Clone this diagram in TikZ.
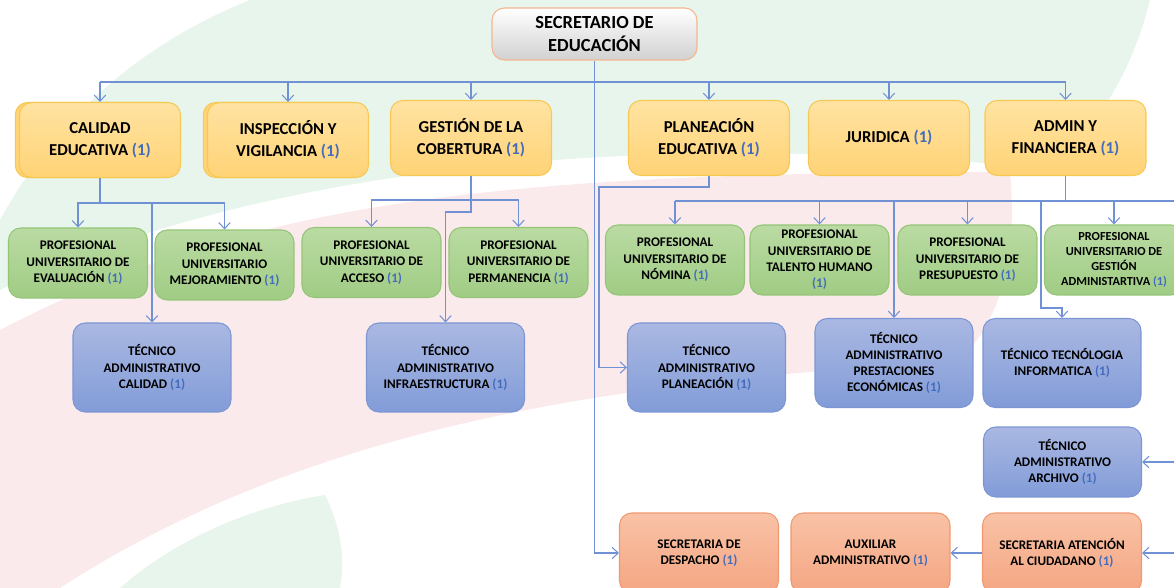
\documentclass[tikz,border=0pt]{standalone}
\usepackage{fontspec}
\setmainfont{Carlito}
\usetikzlibrary{arrows.meta, positioning, shadows}

\definecolor{yellowtop}{RGB}{255,227,162}
\definecolor{yellowbot}{RGB}{255,211,118}
\definecolor{yellowline}{RGB}{248,200,84}
\definecolor{greentop}{RGB}{186,219,163}
\definecolor{greenbot}{RGB}{160,204,132}
\definecolor{greenline}{RGB}{148,196,118}
\definecolor{bluetop}{RGB}{170,184,226}
\definecolor{bluebot}{RGB}{130,156,216}
\definecolor{blueline}{RGB}{124,150,212}
\definecolor{salmontop}{RGB}{249,194,166}
\definecolor{salmonbot}{RGB}{244,166,130}
\definecolor{salmonline}{RGB}{240,152,112}
\definecolor{secline}{RGB}{244,182,144}
\definecolor{conline}{RGB}{112,146,212}
\definecolor{numblue}{RGB}{68,108,188}
\definecolor{bggreen}{RGB}{232,245,236}
\definecolor{bgpink}{RGB}{251,234,236}

\newcommand{\uno}{\textcolor{numblue}{(1)}}

\tikzset{
  box/.style={rounded corners=7pt, align=center, inner sep=2pt, line width=0.6pt},
  jefe/.style={box, draw=secline, top color=white, bottom color=black!18,
    minimum width=4.1cm, minimum height=1.04cm, font=\bfseries\fontsize{10.5}{13}\selectfont},
  cargo/.style={box, draw=yellowline, top color=yellowtop, bottom color=yellowbot,
    minimum width=3.22cm, minimum height=1.5cm, font=\bfseries\fontsize{9.5}{12.5}\selectfont},
  stack/.style={general shadow={shadow xshift=-2.4pt, fill=yellowbot, draw=yellowline}},
  prof/.style={box, draw=greenline, top color=greentop, bottom color=greenbot,
    minimum width=2.78cm, minimum height=1.4cm, font=\bfseries\fontsize{7.5}{9.3}\selectfont},
  tecnico/.style={box, draw=blueline, top color=bluetop, bottom color=bluebot,
    minimum width=3.16cm, minimum height=1.78cm, font=\bfseries\fontsize{7.5}{9.2}\selectfont},
  apoyo/.style={box, draw=salmonline, top color=salmontop, bottom color=salmonbot,
    minimum width=3.18cm, minimum height=1.6cm, font=\bfseries\fontsize{7.5}{9.2}\selectfont},
  con/.style={draw=conline, line width=0.6pt},
  flecha/.style={con, -{Straight Barb[length=3.5pt,width=6.5pt]}}
}

\begin{document}
\begin{tikzpicture}[x=0.02cm, y=-0.02cm]
\useasboundingbox (0,0) rectangle (1174,588);
\clip (0,0) rectangle (1174,588);

% fondo
\fill[bggreen] (250,0) -- (1150,0) .. controls (1130,80) and (1090,140) .. (1040,168)
  .. controls (700,135) and (300,150) .. (0,290) -- (0,220) .. controls (60,110) and (150,40) .. (250,0) -- cycle;
\fill[bgpink] (0,330) .. controls (250,200) and (500,172) .. (1010,172)
  .. controls (1018,260) and (1000,320) .. (960,360) .. controls (700,380) and (350,400) .. (60,588) -- (0,588) -- cycle;
\fill[bggreen] (120,588) .. controls (180,535) and (260,505) .. (325,495) .. controls (342,530) and (345,560) .. (340,588) -- cycle;

% jefe
\node[jefe] (sec) at (594.5,34) {SECRETARIO DE\\EDUCACIÓN};

% areas
\node[cargo, stack] (calidad) at (100,140) {CALIDAD\\EDUCATIVA \uno};
\node[cargo, stack] (inspeccion) at (288,140) {INSPECCIÓN Y\\VIGILANCIA \uno};
\node[cargo] (gestion) at (471,138) {GESTIÓN DE LA\\COBERTURA \uno};
\node[cargo] (planeacion) at (709,138) {PLANEACIÓN\\EDUCATIVA \uno};
\node[cargo] (juridica) at (889,138) {JURIDICA \uno};
\node[cargo] (admin) at (1065.5,138) {ADMIN Y\\FINANCIERA \uno};

% profesionales
\node[prof] (evaluacion) at (78,263) {PROFESIONAL\\UNIVERSITARIO DE\\EVALUACIÓN \uno};
\node[prof] (mejoramiento) at (224.5,265) {PROFESIONAL\\UNIVERSITARIO\\MEJORAMIENTO \uno};
\node[prof] (acceso) at (371.5,262.5) {PROFESIONAL\\UNIVERSITARIO DE\\ACCESO \uno};
\node[prof] (permanencia) at (518.5,262.5) {PROFESIONAL\\UNIVERSITARIO DE\\PERMANENCIA \uno};
\node[prof] (nomina) at (675,260) {PROFESIONAL\\UNIVERSITARIO DE\\NÓMINA \uno};
\node[prof] (talento) at (819.5,260) {PROFESIONAL\\UNIVERSITARIO DE\\TALENTO HUMANO\\\uno};
\node[prof] (presupuesto) at (967.5,260) {PROFESIONAL\\UNIVERSITARIO DE\\PRESUPUESTO \uno};
\node[prof, font=\bfseries\fontsize{7}{8.6}\selectfont] (gestionadm) at (1114,260) {PROFESIONAL\\UNIVERSITARIO DE\\GESTIÓN\\ADMINISTARTIVA \uno};

% tecnicos
\node[tecnico] (tcalidad) at (152,367.5) {TÉCNICO\\ADMINISTRATIVO\\CALIDAD \uno};
\node[tecnico] (tinfra) at (445.5,367.5) {TÉCNICO\\ADMINISTRATIVO\\INFRAESTRUCTURA \uno};
\node[tecnico] (tplaneacion) at (706.5,367.5) {TÉCNICO\\ADMINISTRATIVO\\PLANEACIÓN \uno};
\node[tecnico] (tprestaciones) at (894,363) {TÉCNICO\\ADMINISTRATIVO\\PRESTACIONES\\ECONÓMICAS \uno};
\node[tecnico] (ttecnologia) at (1062,363) {TÉCNICO TECNÓLOGIA\\INFORMATICA \uno};
\node[tecnico, minimum height=1.4cm] (tarchivo) at (1062.5,462) {TÉCNICO\\ADMINISTRATIVO\\ARCHIVO \uno};

% apoyo
\node[apoyo] (despacho) at (699,553) {SECRETARIA DE\\DESPACHO \uno};
\node[apoyo] (auxiliar) at (870.5,553) {AUXILIAR\\ADMINISTRATIVO \uno};
\node[apoyo] (atencion) at (1062,553) {SECRETARIA ATENCIÓN\\AL CIUDADANO \uno};

% conectores
\coordinate (bus) at (0,82);
\coordinate (edge) at (1185,0);
\draw[con] (calidad.north |- bus) -- (admin.north |- bus);
\foreach \n in {calidad,inspeccion,gestion,planeacion,juridica,admin}
  \draw[flecha] (\n.north |- bus) -- (\n.north);
\draw[flecha] (sec.south) |- (despacho.west);

\draw[con] (calidad.south) -- ++(0,25) coordinate (cq);
\draw[flecha] (cq) -| (evaluacion.north);
\draw[flecha] (cq) -| (mejoramiento.north);
\draw[flecha] (cq) -| (tcalidad.north);

\draw[con] (gestion.south) -- ++(0,24) coordinate (gq);
\draw[flecha] (gq) -| (acceso.north);
\draw[flecha] (gq) -| (permanencia.north);
\draw[flecha] (gestion.south) -- ++(0,36) -| (tinfra.north);

\coordinate (pq) at (599,187);
\draw[flecha] (planeacion.south) |- (pq) |- (tplaneacion.west);

\draw[con] (admin.south) -- ++(0,25) coordinate (aq);
\draw[con] (nomina.north |- aq) -- (edge |- aq);
\foreach \n in {nomina,talento,presupuesto,gestionadm,tprestaciones}
  \draw[flecha] (\n.north |- aq) -- (\n.north);
\coordinate (tk) at (1041,308);
\draw[flecha] (tk |- aq) -- (tk) -| (ttecnologia.north);

\draw[flecha] (edge |- tarchivo.east) -- (tarchivo.east);
\draw[flecha] (edge |- atencion.east) -- (atencion.east);
\draw[flecha] (atencion.west) -- (auxiliar.east);
\end{tikzpicture}
\end{document}
